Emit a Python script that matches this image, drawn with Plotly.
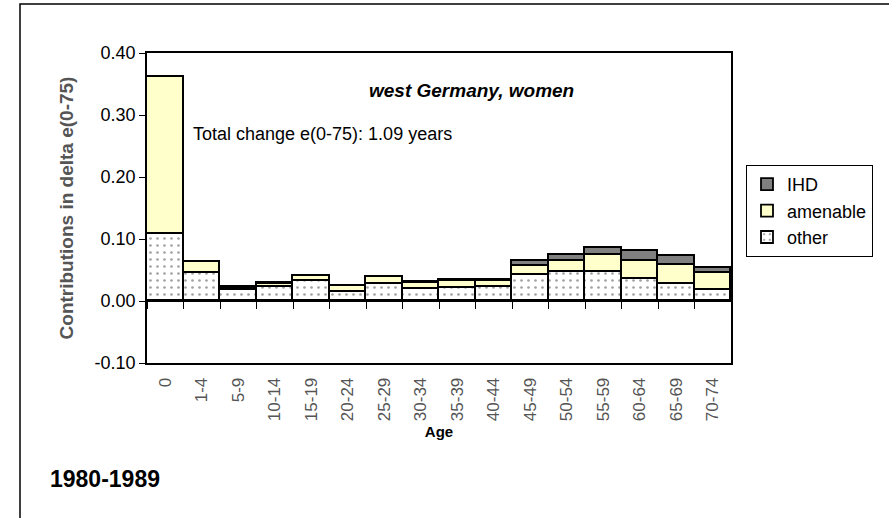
import plotly.graph_objects as go

ages = ["0", "1-4", "5-9", "10-14", "15-19", "20-24", "25-29", "30-34",
        "35-39", "40-44", "45-49", "50-54", "55-59", "60-64", "65-69", "70-74"]
other = [0.108, 0.045, 0.017, 0.023, 0.033, 0.015, 0.027, 0.020,
         0.021, 0.023, 0.042, 0.047, 0.047, 0.036, 0.027, 0.018]
amenable = [0.253, 0.018, 0.004, 0.004, 0.007, 0.009, 0.011, 0.009,
            0.012, 0.010, 0.014, 0.018, 0.027, 0.029, 0.031, 0.027]
ihd = [0.001, 0.000, 0.001, 0.002, 0.001, 0.001, 0.001, 0.001,
       0.001, 0.001, 0.009, 0.010, 0.012, 0.015, 0.015, 0.008]
y_ticks = [-0.1, 0.0, 0.1, 0.2, 0.3, 0.4]
y_tick_text = ["-0.10", "0.00", "0.10", "0.20", "0.30", "0.40"]

# plot area in page pixels
L, R, T, B = 147, 731, 53, 363
W, H = 889, 518


def px(x):
    return (x - L) / (R - L)


def py(y):
    return (B - y) / (B - T)


fig = go.Figure()
fig.add_trace(go.Bar(
    x=ages, y=other, name="other",
    marker=dict(color="white", line=dict(color="black", width=1.8),
                pattern=dict(shape=".", fgcolor="#444444", bgcolor="white",
                             size=7, solidity=0.12)),
))
fig.add_trace(go.Bar(
    x=ages, y=amenable, name="amenable",
    marker=dict(color="#FFFFCC", line=dict(color="black", width=1.8)),
))
fig.add_trace(go.Bar(
    x=ages, y=ihd, name="IHD",
    marker=dict(color="#808080", line=dict(color="black", width=1.8)),
))
# carrier for the category tick marks on the zero line
fig.add_trace(go.Scatter(
    x=ages, y=other, xaxis="x2", mode="none", showlegend=False,
    hoverinfo="skip",
))

font = "Arial, Liberation Sans, sans-serif"
fig.update_layout(
    width=W, height=H,
    margin=dict(l=L, r=W - R, t=T, b=H - B),
    barmode="stack", bargap=0,
    paper_bgcolor="white", plot_bgcolor="white",
    font=dict(family=font, color="black", size=17),
    legend=dict(
        x=px(746), y=py(165), xanchor="left", yanchor="top",
        traceorder="reversed", bordercolor="black", borderwidth=1,
        font=dict(size=18), itemwidth=30, tracegroupgap=0,
    ),
    xaxis=dict(
        type="category", showline=True, linecolor="black", linewidth=1.8,
        mirror=True, ticks="", tickangle=-90, ticklabelstandoff=6,
        tickfont=dict(size=17, color="#555555"),
        title=dict(text="<b>Age</b>", font=dict(size=15), standoff=6),
    ),
    xaxis2=dict(
        type="category", overlaying="x", anchor="free", position=0.2,
        range=[-0.5, 15.5], tickson="boundaries",
        ticks="outside", ticklen=7, tickwidth=1.2, tickcolor="black",
        showticklabels=False, showgrid=False, showline=False, zeroline=False,
    ),
    yaxis=dict(
        range=[-0.1, 0.4], tickvals=y_ticks, ticktext=y_tick_text,
        showline=True, linecolor="black", linewidth=1.8, mirror=True,
        ticks="outside", ticklen=6, tickcolor="black", showgrid=False,
        zeroline=True, zerolinecolor="black", zerolinewidth=1.8,
        tickfont=dict(size=18),
        title=dict(text="<b>Contributions in delta e(0-75)</b>",
                   font=dict(size=19, color="#555555"), standoff=16),
    ),
)

fig.add_annotation(
    text="<b><i>west Germany, women</i></b>", xref="paper", yref="paper",
    x=px(472), y=py(78), showarrow=False, font=dict(size=19),
)
fig.add_annotation(
    text="Total change e(0-75): 1.09 years", xref="paper", yref="paper",
    x=px(191), y=py(122), xanchor="left", showarrow=False,
    font=dict(size=18),
)
fig.add_annotation(
    text="<b>1980-1989</b>", xref="paper", yref="paper",
    x=px(48), y=py(494), xanchor="left", showarrow=False,
    font=dict(size=23),
)

# outer chart frame
fig.add_shape(
    type="rect", xref="paper", yref="paper",
    x0=px(20), x1=px(W + 20), y0=py(H + 20), y1=py(4),
    line=dict(color="black", width=1.5), fillcolor="rgba(0,0,0,0)",
)

fig.write_html("out.html", config={"displayModeBar": False},
               post_script="document.body.style.margin='0';")
